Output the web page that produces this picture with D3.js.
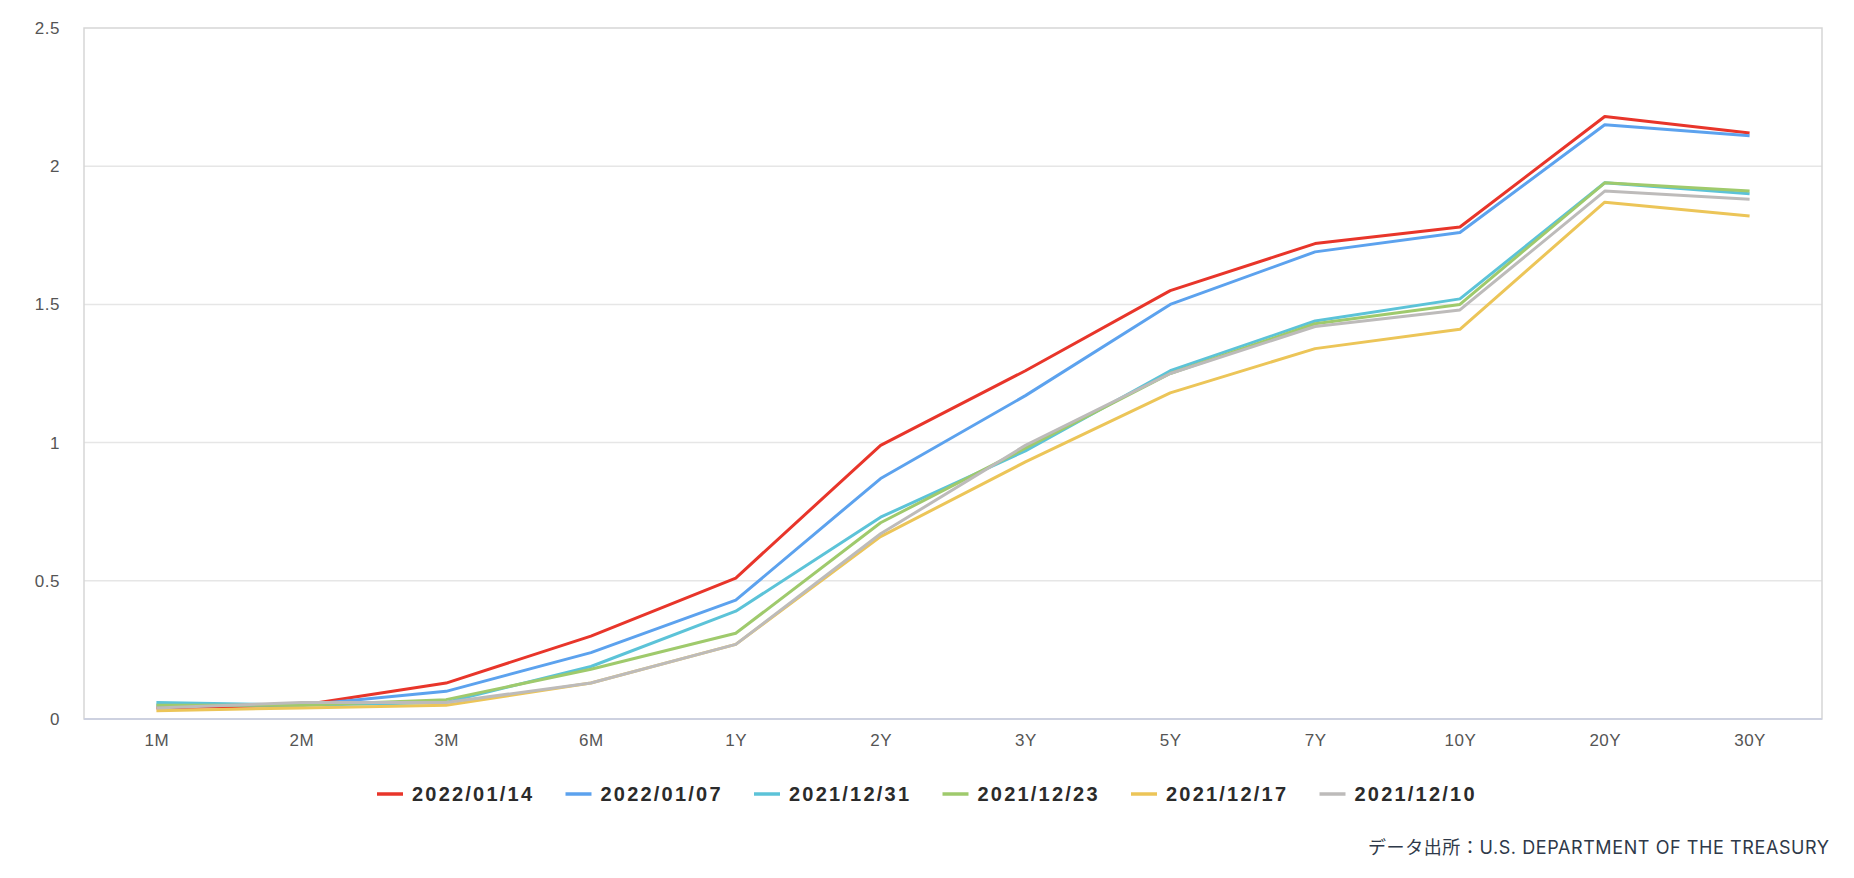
<!DOCTYPE html>
<html>
<head>
<meta charset="utf-8">
<script src="https://cdn.jsdelivr.net/npm/d3@7"></script>
<style>
  html, body { margin: 0; padding: 0; background: #fff; }
  svg { display: block; }
</style>
</head>
<body>
<svg id="chart" width="1854" height="878"></svg>
<script>
const categories = ["1M","2M","3M","6M","1Y","2Y","3Y","5Y","7Y","10Y","20Y","30Y"];
const seriesNames = ["2022/01/14","2022/01/07","2021/12/31","2021/12/23","2021/12/17","2021/12/10"];
const seriesColors = ["#e8352a","#5ca2ee","#5cc3d8","#9fca6c","#ecc558","#bdbbba"];
const s20220114 = [0.04,0.05,0.13,0.30,0.51,0.99,1.26,1.55,1.72,1.78,2.18,2.12];
const s20220107 = [0.05,0.05,0.10,0.24,0.43,0.87,1.17,1.50,1.69,1.76,2.15,2.11];
const s20211231 = [0.06,0.05,0.06,0.19,0.39,0.73,0.97,1.26,1.44,1.52,1.94,1.90];
const s20211223 = [0.05,0.05,0.07,0.18,0.31,0.71,0.98,1.25,1.43,1.50,1.94,1.91];
const s20211217 = [0.03,0.04,0.05,0.13,0.27,0.66,0.93,1.18,1.34,1.41,1.87,1.82];
const s20211210 = [0.04,0.06,0.06,0.13,0.27,0.67,0.99,1.25,1.42,1.48,1.91,1.88];
const yTicks = [0,0.5,1,1.5,2,2.5];
const sourceText = "データ出所：U.S. DEPARTMENT OF THE TREASURY";

const seriesValues = [s20220114,s20220107,s20211231,s20211223,s20211217,s20211210];
const series = seriesNames.map((name,i)=>({name, color: seriesColors[i], values: seriesValues[i]}));

const svg = d3.select("#chart");
const margin = {left: 84, top: 28, right: 1854-1822, bottom: 878-719};
const W = 1854, H = 878;
const x = d3.scalePoint().domain(categories).range([margin.left, W - margin.right]).padding(0.5);
const y = d3.scaleLinear().domain([0, 2.5]).range([H - margin.bottom, margin.top]);

const font = "'Helvetica Neue', Helvetica, 'Liberation Sans', Arial, sans-serif";

// gridlines
svg.append("g")
  .selectAll("line").data(yTicks.filter(d=>d>0 && d<2.5)).join("line")
  .attr("x1", margin.left).attr("x2", W - margin.right)
  .attr("y1", d=>y(d)).attr("y2", d=>y(d))
  .attr("stroke", "#e6e6e6").attr("stroke-width", 1.5);

// frame
svg.append("rect")
  .attr("x", margin.left).attr("y", y(2.5))
  .attr("width", W - margin.right - margin.left).attr("height", y(0) - y(2.5))
  .attr("fill", "none").attr("stroke", "#d6d6d6").attr("stroke-width", 1.5);

// y axis
const yAxis = d3.axisLeft(y).tickValues(yTicks).tickSize(0).tickPadding(24).tickFormat(d3.format("~g"));
const gy = svg.append("g").attr("transform", `translate(${margin.left},0)`).call(yAxis);
gy.select(".domain").remove();
gy.selectAll("text").attr("font-family", font).attr("font-size", 17).attr("fill", "#555").attr("letter-spacing", "0.5px");

// x axis
const xAxis = d3.axisBottom(x).tickSize(0).tickPadding(15);
const gx = svg.append("g").attr("transform", `translate(0,${y(0)})`).call(xAxis);
gx.select(".domain").attr("stroke", "#cdd1e0").attr("stroke-width", 2)
  .attr("d", `M${margin.left},0H${W - margin.right}`);
gx.selectAll("text").attr("font-family", font).attr("font-size", 17).attr("fill", "#555").attr("letter-spacing", "0.5px");

// lines, drawn in series order (last series on top)
const line = d3.line().x((d,i)=>x(categories[i])).y(d=>y(d));
svg.append("g").selectAll("path").data(series).join("path")
  .attr("d", d=>line(d.values))
  .attr("fill", "none").attr("stroke", d=>d.color).attr("stroke-width", 3)
  .attr("stroke-linejoin", "round");

// legend
const legendX0 = 377, legendStep = 188.5, legendY = 794;
const lg = svg.append("g").selectAll("g").data(series).join("g")
  .attr("transform", (d,i)=>`translate(${legendX0 + i*legendStep},${legendY})`);
lg.append("line").attr("x1", 0).attr("x2", 26).attr("y1", 0).attr("y2", 0)
  .attr("stroke", d=>d.color).attr("stroke-width", 3.5);
lg.append("text").attr("x", 35).attr("y", 0).attr("dy", "0.36em")
  .attr("font-family", font).attr("font-size", 20).attr("font-weight", "bold")
  .attr("fill", "#2b2b2b").attr("letter-spacing", "2px")
  .attr("textLength", 122).attr("lengthAdjust", "spacing")
  .text(d=>d.name);

// source
svg.append("text").attr("x", 1829).attr("y", 854).attr("text-anchor", "end")
  .attr("font-family", "Inter, 'Noto Sans CJK JP', sans-serif").attr("font-size", 18)
  .attr("fill", "#2e3949")
  .attr("textLength", 461).attr("lengthAdjust", "spacing")
  .text(sourceText);
</script>
</body>
</html>
